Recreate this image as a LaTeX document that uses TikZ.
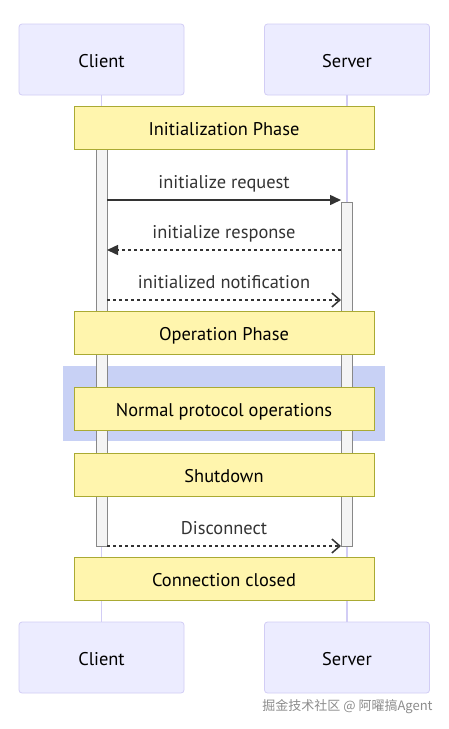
\documentclass[tikz,border=0pt]{standalone}
\usepackage{fontspec}
\setmainfont{PT Sans}
\newfontfamily\cjkfont{Noto Sans CJK SC}
\usetikzlibrary{arrows.meta}

\definecolor{actorfill}{HTML}{ECECFF}
\definecolor{actorline}{HTML}{D2CDF5}
\definecolor{notefill}{HTML}{FFF5AD}
\definecolor{noteline}{HTML}{AAAA33}
\definecolor{actfill}{HTML}{F4F4F4}
\definecolor{actline}{HTML}{888888}
\definecolor{msgline}{HTML}{333333}
\definecolor{rectfill}{RGB}{200,209,245}

\begin{document}
\begin{tikzpicture}[x=1pt, y=-1pt, font=\fontsize{18.4}{22}\selectfont]
    % Define styles
    \tikzstyle{actor} = [rectangle, rounded corners=3pt, minimum width=165pt, minimum height=71pt, text height=15.5pt, text depth=0pt, text centered, draw=actorline, fill=actorfill, line width=0.8pt]
    \tikzstyle{lifeline} = [draw=actorline, line width=1.5pt]
    \tikzstyle{activation} = [rectangle, minimum width=11pt, inner sep=0pt, draw=actline, fill=actfill, line width=1pt]
    \tikzstyle{notebox} = [rectangle, minimum width=300pt, minimum height=43pt, text height=15pt, text depth=0pt, text centered, draw=noteline, fill=notefill, line width=0.8pt]
    \tikzstyle{msg} = [draw=msgline, line width=1.5pt]
    \tikzstyle{reply} = [msg, dash pattern=on 3pt off 3pt]
    \tikzstyle{solidtip} = [-{Triangle[length=11pt, width=10pt]}]
    \tikzstyle{opentip} = [-{Straight Barb[length=8pt, width=14pt, line width=1.5pt]}]
    \tikzstyle{msglabel} = [midway, anchor=base, yshift=12pt, text=msgline, inner sep=0pt]

    \useasboundingbox (0,0) rectangle (448,729);

    % Participants
    \node [actor] (clientTop) at (101.5,59.5) {Client};
    \node [actor] (serverTop) at (347,59.5) {Server};
    \node [actor] (clientBot) at (101.5,657.5) {Client};
    \node [actor] (serverBot) at (347,657.5) {Server};

    % Lifelines
    \draw [lifeline] (clientTop) -- (clientBot);
    \draw [lifeline] (serverTop) -- (serverBot);

    % Background block
    \fill [rectfill] (63,366) rectangle (385,441);

    % Activations
    \node [activation, minimum height=397pt] (clientAct) at (101.5,347.5) {};
    \node [activation, minimum height=344pt] (serverAct) at (346.5,374) {};

    % Notes
    \node [notebox] (initNote) at (224,127.5) {Initialization Phase};
    \node [notebox] (opNote) at (224,333) {Operation Phase};
    \node [notebox] (normalNote) at (224,409) {Normal protocol operations};
    \node [notebox] (shutNote) at (224,474.5) {Shutdown};
    \node [notebox] (closedNote) at (224,578.5) {Connection closed};

    % Message ends
    \coordinate (reqFrom) at (107,200);
    \coordinate (reqTo) at (341,200);
    \coordinate (resFrom) at (341,250);
    \coordinate (resTo) at (107,250);
    \coordinate (notifFrom) at (107,300);
    \coordinate (notifTo) at (341,300);
    \coordinate (discFrom) at (107,546);
    \coordinate (discTo) at (341,546);

    % Messages
    \draw [msg, solidtip] (reqFrom) -- node [msglabel] {initialize request} (reqTo);
    \draw [reply, solidtip] (resFrom) -- node [msglabel] {initialize response} (resTo);
    \draw [reply, opentip] (notifFrom) -- node [msglabel] {initialized notification} (notifTo);
    \draw [reply, opentip] (discFrom) -- node [msglabel] {Disconnect} (discTo);

    % Watermark
    \node [text=black!45, font=\fontsize{13}{15}\selectfont] (mark) at (347.5,707) {\cjkfont 掘金技术社区 @ 阿曜搞Agent};
\end{tikzpicture}
\end{document}
